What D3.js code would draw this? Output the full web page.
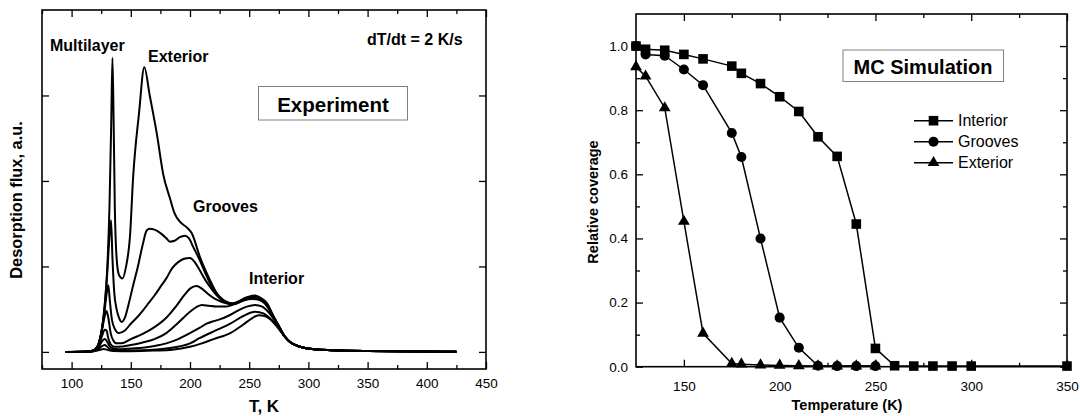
<!doctype html>
<html>
<head>
<script src="https://d3js.org/d3.v7.min.js"></script>
<style>
body { margin: 0; background: #fff; }
svg text { font-family: "Liberation Sans", Arial, sans-serif; fill: #000; }
.tick line { stroke: #000; stroke-width: 1.3; }
.tick text { font-size: 13.5px; }
.curve { fill: none; stroke: #000; stroke-width: 2; }
.frame { fill: none; stroke: #000; stroke-width: 1.6; }
.lbl { font-weight: bold; }
</style>
</head>
<body>
<svg width="1080" height="416" id="chart"></svg>

<script type="text/javascript">
// ---- left panel: TPD spectra (T in K, flux in a.u.) ----
var tail = [[285,0.11],[293,0.06],[305,0.03],[320,0.02],[350,0.01],[400,0.004],[425,0.002]];
var curveA = [[95,0],[110,0.002],[116,0.008],[120,0.03],[123,0.1],[126,0.3],[128,0.55],[130,0.95],[132,1.7],[133.5,2.7],[134.5,3.44],[135.5,2.7],[136.5,1.7],[138,1.1],[140,0.9],[143,0.86],[146,1.0],[149.3,1.35],[152,2.05],[157,2.8],[161.4,3.33],[166,3.0],[172,2.55],[177.5,2.07],[183,1.8],[187,1.62],[191.6,1.52],[197,1.46],[201.4,1.39],[208.4,1.11],[216.9,0.84],[222,0.7],[231,0.585],[236,0.57],[248,0.64],[255,0.66],[260,0.63],[265,0.57],[270,0.43],[275,0.3],[280,0.18]];
var curveB = [[95,0],[110,0.002],[116,0.008],[120,0.03],[123,0.1],[126,0.3],[128,0.55],[130,0.9],[132,1.35],[133.3,1.54],[134.5,1.1],[136,0.7],[138,0.5],[140,0.4],[142.3,0.35],[145,0.4],[148,0.55],[152,0.78],[156,1.0],[160,1.25],[163.4,1.42],[166,1.44],[170,1.43],[175,1.39],[180,1.33],[183,1.29],[187,1.3],[191,1.34],[195.8,1.36],[199,1.33],[203,1.22],[208,1.08],[213,0.92],[217,0.8],[222,0.69],[231,0.58],[236,0.565],[248,0.63],[255,0.65],[260,0.62],[265,0.56],[270,0.43],[275,0.3],[280,0.18]];
var curveC = [[95,0],[110,0.002],[116,0.008],[120,0.03],[123,0.1],[126,0.3],[128,0.5],[130,0.72],[131,0.78],[132.3,0.6],[134,0.38],[136.5,0.27],[140,0.22],[145,0.25],[150,0.33],[155,0.4],[160,0.48],[165,0.57],[170,0.66],[175,0.76],[180,0.86],[185,0.98],[190,1.05],[195,1.09],[200,1.1],[204,1.05],[208,0.96],[213,0.84],[217,0.76],[222,0.67],[231,0.57],[236,0.56],[248,0.62],[255,0.64],[260,0.61],[265,0.55],[270,0.42],[275,0.3],[280,0.18]];
var curveD = [[95,0],[110,0.002],[116,0.008],[120,0.03],[123,0.1],[126,0.28],[128,0.42],[129.5,0.48],[131,0.4],[133,0.22],[135,0.14],[138,0.1],[142,0.1],[150,0.15],[160,0.21],[170,0.29],[180,0.4],[188,0.53],[195,0.66],[200,0.74],[205.6,0.77],[210,0.74],[215,0.68],[220,0.63],[226,0.59],[231,0.57],[236,0.56],[248,0.62],[255,0.64],[260,0.61],[265,0.55],[270,0.42],[275,0.3],[280,0.18]];
var curveE = [[95,0],[116,0.006],[120,0.025],[123,0.08],[126,0.2],[128,0.26],[129.5,0.25],[131,0.16],[133,0.09],[136,0.06],[140,0.06],[150,0.08],[160,0.11],[170,0.15],[180,0.22],[190,0.34],[200,0.47],[206,0.53],[210,0.55],[216,0.54],[222,0.53],[230,0.53],[236,0.55],[245,0.6],[252,0.62],[258,0.61],[263,0.57],[268,0.47],[272,0.38],[276,0.28],[280,0.18]];
var curveF = [[95,0],[116,0.005],[120,0.02],[123,0.06],[126,0.13],[128,0.15],[130,0.12],[132,0.07],[135,0.04],[140,0.03],[150,0.04],[160,0.05],[170,0.07],[180,0.1],[190,0.15],[200,0.22],[208,0.28],[214,0.33],[220,0.36],[225,0.38],[232,0.42],[240,0.48],[248,0.53],[255,0.55],[261,0.53],[266,0.47],[270,0.4],[274,0.31],[278,0.22],[282,0.15]];
var curveG = [[95,0],[116,0.004],[120,0.015],[123,0.04],[126,0.07],[128,0.08],[130,0.06],[133,0.03],[140,0.015],[160,0.02],[180,0.04],[200,0.1],[208,0.16],[220,0.24],[234,0.33],[245,0.42],[255,0.47],[262,0.45],[267,0.4],[272,0.33],[276,0.26],[280,0.18]];
var curveH = [[95,0],[116,0.003],[120,0.01],[124,0.025],[127,0.035],[130,0.025],[135,0.01],[150,0.008],[170,0.015],[185,0.025],[200,0.06],[210,0.1],[220,0.15],[234,0.22],[245,0.32],[252,0.39],[258,0.43],[263,0.42],[268,0.38],[272,0.32],[276,0.25],[280,0.18]];
var tpdCurves = [curveH, curveG, curveF, curveE, curveD, curveC, curveB, curveA];
var leftTicksX = [100, 150, 200, 250, 300, 350, 400, 450];
var leftMinorX = [75, 125, 175, 225, 275, 325, 375, 425];
var leftTicksY = [0, 1, 2, 3];

// ---- right panel: MC simulation ----
var simT = [125, 130, 140, 150, 160, 175, 180, 190, 200, 210, 220, 230, 240, 250, 260, 270, 280, 290, 300, 350];
var interior = [1.0, 0.99, 0.987, 0.974, 0.96, 0.9375, 0.915, 0.883, 0.842, 0.796, 0.717, 0.656, 0.445, 0.057, 0.003, 0.002, 0.002, 0.002, 0.002, 0.002];
var grooves  = [1.0, 0.974, 0.97, 0.927, 0.878, 0.729, 0.654, 0.4, 0.153, 0.059, 0.003, 0.002, 0.002, 0.002];
var exterior = [0.935, 0.906, 0.807, 0.453, 0.104, 0.01, 0.008, 0.005, 0.004, 0.003, 0.002, 0.002, 0.002, 0.002];
var seriesNames = ["Interior", "Grooves", "Exterior"];
var rightTicksX = [150, 200, 250, 300, 350];
var rightMinorX = [175, 225, 275, 325];
var rightTicksY = [0, 0.2, 0.4, 0.6, 0.8, 1.0];
var rightMinorY = [0.1, 0.3, 0.5, 0.7, 0.9];

var svg = d3.select("#chart");

function frameAxes(g, x, y, majX, minX, majY, minY, xFmt, yFmt, padX, padY) {
  var r = x.range(), t = y.range();
  var x0 = r[0], x1 = r[1], yb = t[0], yt = t[1];
  g.append("g").attr("transform", "translate(0," + yb + ")")
    .call(d3.axisBottom(x).tickValues(majX).tickSize(-7).tickPadding(padX).tickFormat(xFmt));
  g.append("g").attr("transform", "translate(0," + yb + ")")
    .call(d3.axisBottom(x).tickValues(minX).tickSize(-4).tickFormat(""));
  g.append("g").attr("transform", "translate(0," + yt + ")")
    .call(d3.axisTop(x).tickValues(majX).tickSize(-7).tickFormat(""));
  g.append("g").attr("transform", "translate(0," + yt + ")")
    .call(d3.axisTop(x).tickValues(minX).tickSize(-4).tickFormat(""));
  g.append("g").attr("transform", "translate(" + x0 + ",0)")
    .call(d3.axisLeft(y).tickValues(majY).tickSize(-7).tickPadding(padY).tickFormat(yFmt));
  g.append("g").attr("transform", "translate(" + x1 + ",0)")
    .call(d3.axisRight(y).tickValues(majY).tickSize(-7).tickFormat(""));
  if (minY) {
    g.append("g").attr("transform", "translate(" + x0 + ",0)")
      .call(d3.axisLeft(y).tickValues(minY).tickSize(-4).tickFormat(""));
    g.append("g").attr("transform", "translate(" + x1 + ",0)")
      .call(d3.axisRight(y).tickValues(minY).tickSize(-4).tickFormat(""));
  }
  g.selectAll(".domain").remove();
  g.selectAll(".tick text").attr("font-family", null).attr("font-size", null);
  g.append("rect").attr("class", "frame")
    .attr("x", x0).attr("y", yt).attr("width", x1 - x0).attr("height", yb - yt);
}

// ---------- left panel ----------
var xL = d3.scaleLinear().domain([75, 450]).range([42, 486]);
var yL = d3.scaleLinear().domain([-0.2, 4.0]).range([369, 10]);
var gL = svg.append("g");

var line = d3.line()
  .x(function(d) { return xL(d[0]); })
  .y(function(d) { return yL(d[1]); })
  .curve(d3.curveMonotoneX);

gL.selectAll("path.curve").data(tpdCurves).enter()
  .append("path").attr("class", "curve")
  .attr("d", function(d) { return line(d.concat(d[d.length - 1][0] < 285 ? tail : tail.slice(1))); });

frameAxes(gL, xL, yL, leftTicksX, leftMinorX, leftTicksY, null, d3.format("d"), function() { return ""; }, 9, 3);

gL.append("text").attr("class", "lbl").attr("x", 50).attr("y", 51).attr("font-size", 16).text("Multilayer");
gL.append("text").attr("class", "lbl").attr("x", 148).attr("y", 62).attr("font-size", 16).text("Exterior");
gL.append("text").attr("class", "lbl").attr("x", 193).attr("y", 212).attr("font-size", 16).text("Grooves");
gL.append("text").attr("class", "lbl").attr("x", 249).attr("y", 284).attr("font-size", 16).text("Interior");
gL.append("text").attr("class", "lbl").attr("x", 367).attr("y", 45).attr("font-size", 16).text("dT/dt = 2 K/s");
gL.append("rect").attr("x", 258.5).attr("y", 86.5).attr("width", 149).attr("height", 33.5)
  .attr("fill", "#fff").attr("stroke", "#808080").attr("stroke-width", 1);
gL.append("text").attr("class", "lbl").attr("x", 333).attr("y", 111.5).attr("font-size", 20.5)
  .attr("text-anchor", "middle").text("Experiment");
gL.append("text").attr("class", "lbl").attr("x", 264).attr("y", 412).attr("font-size", 17)
  .attr("text-anchor", "middle").text("T, K");
gL.append("text").attr("class", "lbl").attr("font-size", 16.4).attr("text-anchor", "middle")
  .attr("transform", "translate(22,200) rotate(-90)").text("Desorption flux, a.u.");

// ---------- right panel ----------
var xR = d3.scaleLinear().domain([125, 350]).range([636, 1067]);
var yR = d3.scaleLinear().domain([0, 1.1]).range([366.7, 14]);
var gR = svg.append("g");

frameAxes(gR, xR, yR, rightTicksX, rightMinorX, rightTicksY, rightMinorY, d3.format("d"), d3.format(".1f"), 14.5, 8);

var simLine = d3.line()
  .x(function(d) { return xR(d[0]); })
  .y(function(d) { return yR(d[1]); });

var symbols = [d3.symbolSquare, d3.symbolCircle, d3.symbolTriangle];
var symSizes = [92, 80, 60];
var simData = [interior, grooves, exterior].map(function(vals) {
  return vals.map(function(v, i) { return [simT[i], v]; });
});

simData.forEach(function(pts, k) {
  gR.append("path").attr("d", simLine(pts))
    .attr("fill", "none").attr("stroke", "#000").attr("stroke-width", 1.5);
  gR.selectAll(null).data(pts).enter().append("path")
    .attr("transform", function(d) { return "translate(" + xR(d[0]) + "," + yR(d[1]) + ")"; })
    .attr("d", d3.symbol().type(symbols[k]).size(symSizes[k]))
    .attr("fill", "#000");
});

// legend
var legY = [120.7, 141.7, 162.7];
seriesNames.forEach(function(name, k) {
  var lg = gR.append("g").attr("transform", "translate(914," + legY[k] + ")");
  lg.append("line").attr("x1", 0).attr("x2", 39).attr("stroke", "#000").attr("stroke-width", 1.5);
  lg.append("path").attr("transform", "translate(19.5,0)")
    .attr("d", d3.symbol().type(symbols[k]).size(symSizes[k])).attr("fill", "#000");
  lg.append("text").attr("x", 44).attr("y", 5.5).attr("font-size", 16).text(name);
});

gR.append("rect").attr("x", 843).attr("y", 50).attr("width", 160.5).attr("height", 31.5)
  .attr("fill", "#fff").attr("stroke", "#808080").attr("stroke-width", 1);
gR.append("text").attr("class", "lbl").attr("x", 923).attr("y", 74).attr("font-size", 20)
  .attr("text-anchor", "middle").text("MC Simulation");
gR.append("text").attr("class", "lbl").attr("x", 847).attr("y", 410).attr("font-size", 14.5)
  .attr("text-anchor", "middle").text("Temperature (K)");
gR.append("text").attr("class", "lbl").attr("font-size", 14.5).attr("text-anchor", "middle")
  .attr("transform", "translate(598,202) rotate(-90)").text("Relative coverage");
</script>
</body>
</html>
